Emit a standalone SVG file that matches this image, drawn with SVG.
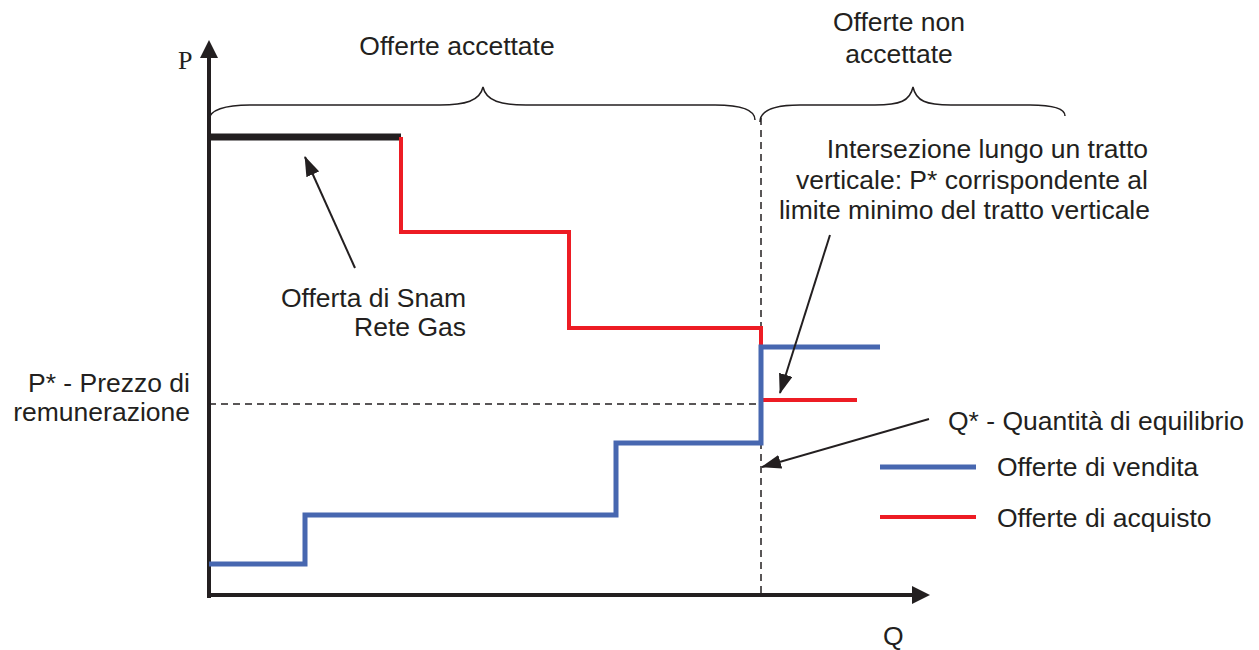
<svg xmlns="http://www.w3.org/2000/svg" width="1259" height="650" viewBox="0 0 1259 650">
<style>
text{font-family:"Liberation Sans",Arial,sans-serif;font-size:26.5px;fill:#231f20}
.axis{stroke:#231f20;stroke-width:4;fill:none}
.red{stroke:#ed1c24;stroke-width:4;fill:none}
.blue{stroke:#4767b0;stroke-width:5;fill:none}
.dash{stroke:#231f20;stroke-width:1.5;stroke-dasharray:7,5;fill:none}
.brace{stroke:#231f20;stroke-width:1.5;fill:none}
.ptr{stroke:#231f20;stroke-width:2;fill:none}
</style>
<defs>
<marker id="ah" viewBox="0 0 20 14" refX="19" refY="7" markerWidth="20" markerHeight="14" markerUnits="userSpaceOnUse" orient="auto">
<path d="M0,0 L20,7 L0,14 Z" fill="#231f20"/>
</marker>
</defs>
<g id="axes">
<path class="axis" d="M209,598 L209,58"/>
<path d="M200,58 L209,40 L218,58 Z" fill="#231f20"/>
<path class="axis" d="M207,595 L912,595"/>
<path d="M912,586 L930,595 L912,604 Z" fill="#231f20"/>
<text x="178" y="69" style="font-family:'Liberation Serif','Times New Roman',serif;font-size:26px">P</text>
<text x="883" y="645">Q</text>
</g>
<g id="guides">
<path class="dash" d="M209,404 L760,404"/>
<path class="dash" d="M761,118 L761,595"/>
</g>
<g id="braces">
<path class="brace" d="M209,120 C209,110 225,105 250,105 L440,105 C465,105 480,101 483,87 C486,101 501,105 526,105 L715,105 C740,105 755,110 755,120"/>
<path class="brace" d="M760,122 C760,110 775,105 800,105 L875,105 C900,105 910,101 913,87 C916,101 926,105 951,105 L1030,105 C1052,105 1065,108 1065,116"/>
<text x="457" y="55" text-anchor="middle">Offerte accettate</text>
<text x="899" y="31" text-anchor="middle">Offerte non</text>
<text x="899" y="63" text-anchor="middle">accettate</text>
</g>
<g id="snam">
<path d="M209,137 L401,137" stroke="#231f20" stroke-width="7" fill="none"/>
</g>
<g id="acquisto">
<path class="red" d="M401,137 L401,232 L569,232 L569,328 L761,328 L761,347"/>
<path class="red" d="M763,400 L857,400"/>
</g>
<g id="vendita">
<path class="blue" d="M209,564 L305,564 L305,515 L616,515 L616,443 L761,443 L761,347 L880,347"/>
</g>
<g id="connectors">
<path class="ptr" d="M355,268 L305,157" marker-end="url(#ah)"/>
<path class="ptr" d="M830,235 L780,393" marker-end="url(#ah)"/>
<path class="ptr" d="M929,419 L762,467" marker-end="url(#ah)"/>
</g>
<g id="labels">
<text x="466" y="307" text-anchor="end">Offerta di Snam</text>
<text x="466" y="336" text-anchor="end">Rete Gas</text>
<text x="190" y="392" text-anchor="end">P* - Prezzo di</text>
<text x="190" y="421" text-anchor="end">remunerazione</text>
<text x="1148" y="158" text-anchor="end">Intersezione lungo un tratto</text>
<text x="1148" y="189" text-anchor="end">verticale: P* corrispondente al</text>
<text x="1150" y="219" text-anchor="end">limite minimo del tratto verticale</text>
<text x="948" y="430">Q* - Quantità di equilibrio</text>
</g>
<g id="legend">
<path class="blue" d="M880,467 L976,467"/>
<path class="red" d="M880,517 L976,517"/>
<text x="997" y="476">Offerte di vendita</text>
<text x="997" y="527">Offerte di acquisto</text>
</g>
</svg>
